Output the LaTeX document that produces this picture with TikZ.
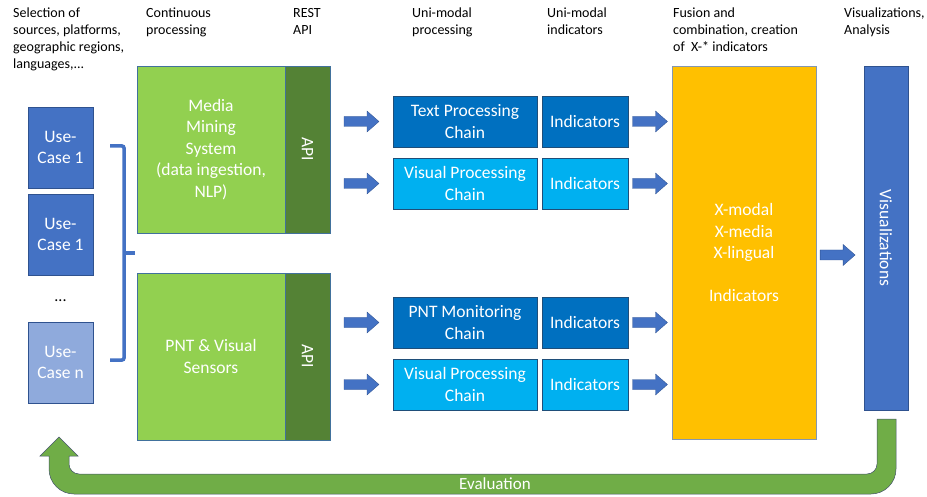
\documentclass[tikz,border=0pt]{standalone}
\usepackage{fontspec}
\setmainfont{Carlito}
\usetikzlibrary{calc}
\definecolor{ucblue}{HTML}{4472C4}
\definecolor{uclight}{HTML}{8FAADC}
\definecolor{ucborder}{HTML}{2F528F}
\definecolor{lgreen}{HTML}{92D050}
\definecolor{dgreen}{HTML}{548235}
\definecolor{gborder}{HTML}{41719C}
\definecolor{tblue}{HTML}{0070C0}
\definecolor{vblue}{HTML}{00B0F0}
\definecolor{cborder}{HTML}{1F4E79}
\definecolor{orangef}{HTML}{FFC000}
\definecolor{oborder}{HTML}{8497B0}
\definecolor{evgreen}{HTML}{70AD47}
\definecolor{evborder}{HTML}{44546A}
\tikzset{
  box/.style={draw=#1, line width=0.6pt, inner sep=0pt, align=center, text=white,
    font=\fontsize{17.5}{21.5}\selectfont},
  box/.default=gborder,
  header/.style={anchor=north west, inner sep=0pt, align=left,
    font=\fontsize{14}{17}\selectfont},
  barrow/.pic={\fill[ucblue, draw=ucborder, line width=0.3pt]
    (-17.5,-5) -- (5.5,-5) -- (5.5,-10.5) -- (17.5,0) -- (5.5,10.5) -- (5.5,5) -- (-17.5,5) -- cycle;}
}
\begin{document}
\begin{tikzpicture}[x=1pt,y=-1pt]
\useasboundingbox (0,0) rectangle (927,497);

% headers
\node[header] (h1) at (13,8) {Selection of\\sources, platforms,\\geographic regions,\\languages,...};
\node[header] (h2) at (146,8) {Continuous\\processing};
\node[header] (h3) at (293,8) {REST\\API};
\node[header] (h4) at (412,8) {Uni-modal\\processing};
\node[header] (h5) at (547,8) {Uni-modal\\indicators};
\node[header] (h6) at (673,8) {Fusion and\\combination, creation\\of\ \ X-* indicators};
\node[header] (h7) at (844,8) {Visualizations,\\Analysis};

% use cases
\node[box=ucborder, fill=ucblue, minimum width=65pt, minimum height=81pt, font=\fontsize{17.5}{20.5}\selectfont] (uc1) at (60.5,147.5) {Use-\\Case 1};
\node[box=ucborder, fill=ucblue, minimum width=65pt, minimum height=81pt, font=\fontsize{17.5}{20.5}\selectfont] (uc2) at (60.5,234.5) {Use-\\Case 1};
\node[inner sep=0pt, font=\fontsize{16}{18}\selectfont] (dots) at (60.5,301) {...};
\node[box=ucborder, fill=uclight, minimum width=65pt, minimum height=81pt, font=\fontsize{17.5}{20.5}\selectfont] (uc3) at (60.5,362.5) {Use-\\Case n};

% bracket
\draw[ucblue, line width=3.5pt, rounded corners=2pt] (110,146) -- (124,146) -- (124,360) -- (110,360);
\draw[ucblue, line width=3.5pt] (124,253) -- (135,253);

% systems
\node[box, fill=lgreen, minimum width=148pt, minimum height=167pt] (mms) at (211,149.5) {Media\\Mining\\System\\(data ingestion,\\NLP)};
\node[box, fill=dgreen, minimum width=45pt, minimum height=167pt] (api1) at (307.5,149.5) {\rotatebox{-90}{API}};
\node[box, fill=lgreen, minimum width=148pt, minimum height=167pt] (pnt) at (211,356.5) {PNT \& Visual\\Sensors};
\node[box, fill=dgreen, minimum width=45pt, minimum height=167pt] (api2) at (307.5,356.5) {\rotatebox{-90}{API}};

% chains
\node[box=cborder, fill=tblue, minimum width=144pt, minimum height=51pt] (tpc) at (465,121.5) {Text Processing\\Chain};
\node[box=cborder, fill=tblue, minimum width=86pt, minimum height=51pt] (ind1) at (585,121.5) {Indicators};
\node[box=cborder, fill=vblue, minimum width=144pt, minimum height=51pt] (vpc1) at (465,183.5) {Visual Processing\\Chain};
\node[box=cborder, fill=vblue, minimum width=86pt, minimum height=51pt] (ind2) at (585,183.5) {Indicators};
\node[box=cborder, fill=tblue, minimum width=144pt, minimum height=51pt] (pmc) at (465,322.5) {PNT Monitoring\\Chain};
\node[box=cborder, fill=tblue, minimum width=86pt, minimum height=51pt] (ind3) at (585,322.5) {Indicators};
\node[box=cborder, fill=vblue, minimum width=144pt, minimum height=51pt] (vpc2) at (465,384.5) {Visual Processing\\Chain};
\node[box=cborder, fill=vblue, minimum width=86pt, minimum height=51pt] (ind4) at (585,384.5) {Indicators};

% fusion
\node[box=oborder, fill=orangef, minimum width=144pt, minimum height=373pt] (fus) at (744,252.5) {X-modal\\X-media\\X-lingual\\[21.5pt]Indicators};
% visualizations
\node[box=ucborder, fill=ucblue, minimum width=44pt, minimum height=344pt] (vis) at (886,238) {\rotatebox{-90}{Visualizations}};

% block arrows
\foreach \a/\b in {api1/tpc, api1/vpc1, api2/pmc, api2/vpc2}{
  \pic at ($(\a.east|-\b.center)!0.5!(\b.west)$) {barrow};
}
\foreach \a in {ind1, ind2, ind3, ind4}{
  \pic at ($(\a.east)!0.5!(fus.west|-\a.center)$) {barrow};
}
\pic at ($(fus.east|-0,255)!0.45!(vis.west|-0,255)$) {barrow};

% evaluation feedback arrow
\fill[evgreen, draw=evborder, line width=0.5pt]
  (877,419) -- (896,419) -- (896,469) arc[start angle=0, end angle=90, radius=25]
  -- (74,494) arc[start angle=90, end angle=180, radius=25]
  -- (49,456) -- (40,456) -- (59,437) -- (78,456) -- (69,456) -- (69,464)
  arc[start angle=180, end angle=90, radius=10]
  -- (867,474) arc[start angle=90, end angle=0, radius=10] -- cycle;
\node[text=white, inner sep=0pt, font=\fontsize{17}{18}\selectfont] (ev) at (495,484) {Evaluation};
\end{tikzpicture}
\end{document}
